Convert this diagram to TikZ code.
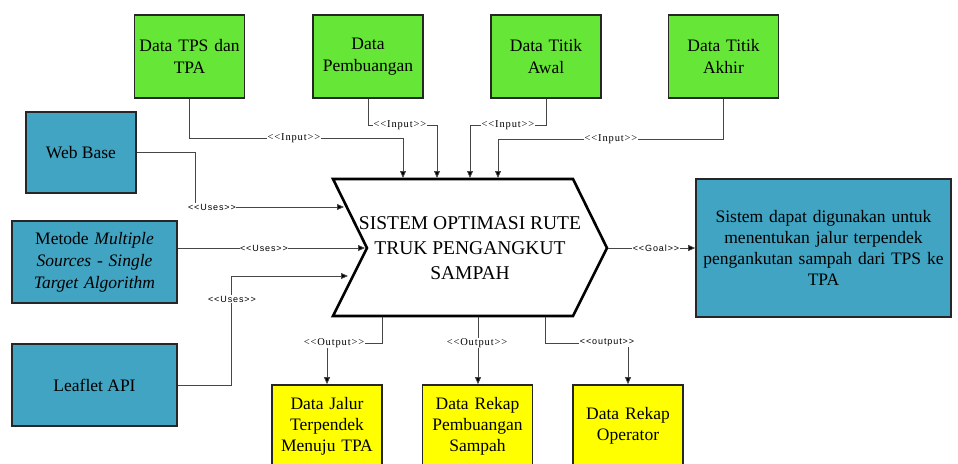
\documentclass[tikz,border=0pt]{standalone}
\usepackage{fontspec}
\setmainfont{Liberation Serif}
\newfontfamily\lblsans[LetterSpace=10]{Liberation Sans}
\newfontfamily\lblserif[LetterSpace=8]{Liberation Serif}
\usetikzlibrary{arrows.meta}
\definecolor{grn}{RGB}{102,230,54}
\definecolor{blu}{RGB}{64,164,194}
\definecolor{ylw}{RGB}{255,255,0}
\definecolor{connc}{RGB}{70,70,70}
\tikzset{
  box/.style={draw=black!85, line width=1.6pt, align=center, inner sep=2pt,
    font=\fontsize{17.5}{22}\selectfont},
  gbox/.style={box, fill=grn, minimum width=110pt, minimum height=83pt, text width=106pt},
  bbox/.style={box, fill=blu},
  ybox/.style={box, fill=ylw, minimum width=110pt, minimum height=82pt, text width=106pt,
    font=\fontsize{17.5}{21}\selectfont},
  conn/.style={draw=connc, line width=0.8pt, -{Triangle[length=7pt,width=6pt,fill=black]}},
  lbl/.style={fill=white, inner sep=0.5pt, font=\lblserif\fontsize{10.5}{11}\selectfont},
  lbls/.style={fill=white, inner sep=0.5pt, font=\lblsans\fontsize{9}{10}\selectfont},
}
\begin{document}
\begin{tikzpicture}[x=1pt,y=-1pt]
\useasboundingbox[fill=white] (0,0) rectangle (958,463);

% top green inputs
\node[gbox] (g1) at (189.5,56.5) {Data TPS dan\\TPA};
\node[gbox] (g2) at (368,56.5) {Data\\Pembuangan};
\node[gbox] (g3) at (546,56.5) {Data Titik\\Awal};
\node[gbox] (g4) at (723.5,56.5) {Data Titik\\Akhir};

% left blue
\node[bbox, minimum width=110pt, minimum height=81pt] (wb) at (81,152.5) {Web Base};
\node[bbox, minimum width=165pt, minimum height=82pt, text width=160pt] (mt) at (94.5,262)
  {Metode \textit{Multiple}\\\textit{Sources - Single}\\\textit{Target Algorithm}};
\node[bbox, minimum width=165pt, minimum height=82pt] (lf) at (94.5,385) {Leaflet API};

% goal
\node[bbox, minimum width=255pt, minimum height=138pt, text width=250pt,
  font=\fontsize{17.5}{21}\selectfont] (goal) at (823.5,248)
  {Sistem dapat digunakan untuk\\menentukan jalur terpendek\\pengankutan sampah dari TPS ke\\TPA};

% yellow outputs
\node[ybox] (y1) at (327,426) {Data Jalur\\Terpendek\\Menuju TPA};
\node[ybox] (y2) at (477.5,426) {Data Rekap\\Pembuangan\\Sampah};
\node[ybox] (y3) at (628,426) {Data Rekap\\Operator};

% central chevron
\draw[line width=2.6pt, fill=white, line join=miter]
  (333,179) -- (573,179) -- (607,248) -- (573,316) -- (333,316) -- (367,248) -- cycle;
\node[align=center, font=\fontsize{19.5}{25}\selectfont] (sys) at (470,248)
  {SISTEM OPTIMASI RUTE\\TRUK PENGANGKUT\\SAMPAH};

% anchor points on the chevron
\coordinate (i1) at (403,178);
\coordinate (i2) at (437,178);
\coordinate (i3) at (470,178);
\coordinate (i4) at (498,178);
\coordinate (u1) at (344,207);
\coordinate (u2) at (365,248);
\coordinate (u3) at (348,276);
\coordinate (gt) at (608,248);
\coordinate (o1) at (382,317);
\coordinate (o2) at (478,317);
\coordinate (o3) at (545,317);
\coordinate (k1) at (0,138);
\coordinate (k2) at (0,125);
\coordinate (k4) at (0,139);
\coordinate (ko) at (0,343);
\coordinate (wx) at (195,0);
\coordinate (lx) at (231,0);

% inputs
\draw[conn] (g1.south) -- (g1.south |- k1) -| (i1);
\draw[conn] (g2.south) -- (g2.south |- k2) -| (i2);
\draw[conn] (g3.south) -- (g3.south |- k2) -| (i3);
\draw[conn] (g4.south) -- (g4.south |- k4) -| (i4);
\node[lbl] (l1) at (294,138) {<<Input>>};
\node[lbl] (l2) at (400,125) {<<Input>>};
\node[lbl] (l3) at (508,125) {<<Input>>};
\node[lbl] (l4) at (611,139) {<<Input>>};

% uses
\draw[conn] (wb.east) -- (wb.east -| wx) |- (u1);
\draw[conn] (mt.east |- u2) -- (u2);
\draw[conn] (lf.east) -- (lf.east -| lx) |- (u3);
\node[lbls] (l5) at (212,207) {<<Uses>>};
\node[lbls] (l6) at (264,248) {<<Uses>>};
\node[lbls] (l7) at (232,299) {<<Uses>>};

% goal
\draw[conn] (gt) -- (goal.west);
\node[lbls] (l8) at (656,248) {<<Goal>>};

% outputs
\draw[conn] (o1) -- (o1 |- ko) -| (y1.north);
\draw[conn] (o2) -- (o2 |- y2.north);
\draw[conn] (o3) -- (o3 |- ko) -| (y3.north);
\node[lbl] (l9) at (334,343) {<<Output>>};
\node[lbl] (l10) at (477,343) {<<Output>>};
\node[lbls] (l11) at (607,343) {<<output>>};
\end{tikzpicture}
\end{document}
